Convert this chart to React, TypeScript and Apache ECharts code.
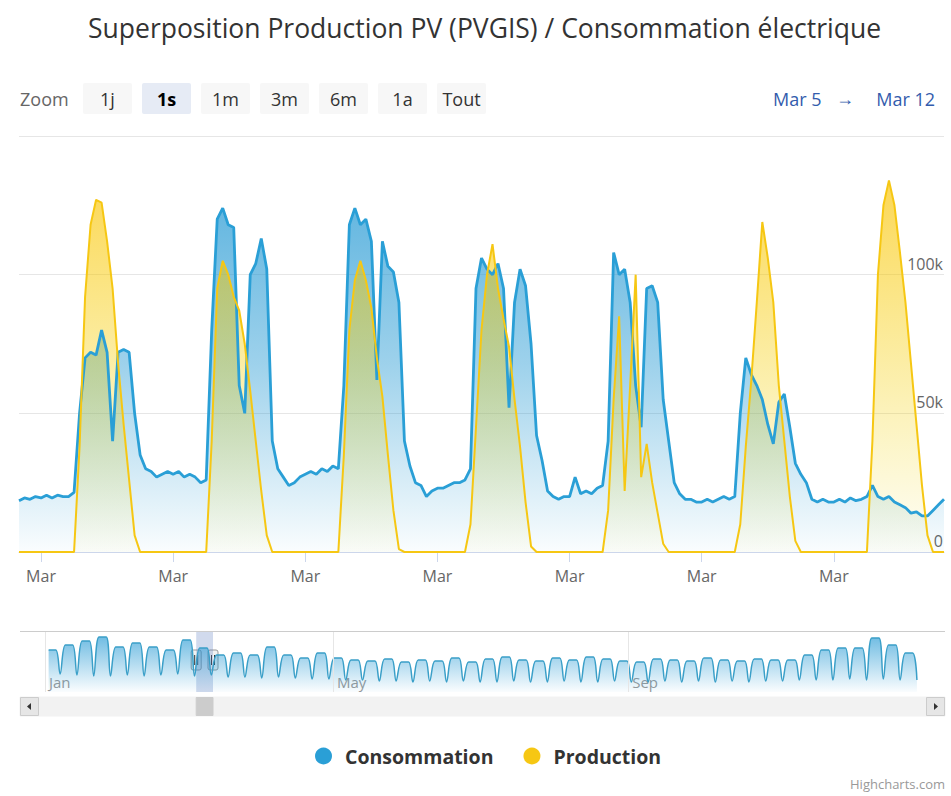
import React, { useEffect, useRef } from 'react';
import * as echarts from 'echarts';

// ---------- DATA ----------
// Hourly categories: hours relative to Mar 5 00:00 (one week shown)
const HOURS: number[] = Array.from({ length: 169 }, (_, i) => i - 4);

// Consommation (kW, in k units), hourly from h=-4 to h=164
const CONSOMMATION: number[] = [
  18.5, 19.5, 19, 20,
  // day 0
  19.5, 20.5, 19.5, 20.5, 20, 20, 21.5, 50, 70, 72, 71, 80, 72, 40, 72, 73, 72, 50, 35, 30, 29, 27, 28, 29,
  // day 1
  28, 29, 27, 28, 27, 25, 26, 80, 120, 124, 118, 117, 60, 50, 100, 104, 113, 102, 40, 30, 27, 24, 25, 27,
  // day 2
  28, 29, 28, 30, 29, 31, 30, 60, 118, 124, 118, 120, 112, 62, 112, 103, 101, 90, 40, 31, 25, 24, 20, 22,
  // day 3
  23, 23, 24, 25, 25, 26, 30, 95, 106, 102, 100, 104, 95, 52, 90, 102, 96, 75, 42, 33, 22, 20, 19, 20,
  // day 4
  20, 27, 21, 22, 21, 23, 24, 40, 108, 100, 102, 90, 60, 45, 95, 96, 90, 55, 40, 25, 21, 19, 19, 18,
  // day 5
  18, 19, 18, 19, 20, 19, 20, 50, 70, 64, 60, 55, 46, 39, 54, 57, 45, 32, 28, 25, 19, 18, 19, 18,
  // day 6
  18, 19, 18, 19.5, 18.5, 19, 20, 24, 20, 19, 20, 18, 17, 16, 14, 14.5, 13, 13, 15, 17, 19,
];

// Production PV (k units), hourly from h=-4 to h=164
const PRODUCTION: number[] = [
  0, 0, 0, 0,
  // day 0
  0, 0, 0, 0, 0, 0, 0, 38, 92, 118, 127, 126, 112, 95, 68, 46, 26, 6, 0, 0, 0, 0, 0, 0,
  // day 1
  0, 0, 0, 0, 0, 0, 0, 40, 95, 105, 100, 92, 87, 75, 58, 40, 22, 6, 0, 0, 0, 0, 0, 0,
  // day 2
  0, 0, 0, 0, 0, 0, 0, 35, 80, 98, 105, 98, 88, 70, 56, 35, 15, 1, 0, 0, 0, 0, 0, 0,
  // day 3
  0, 0, 0, 0, 0, 0, 10, 45, 80, 100, 111, 95, 84, 74, 55, 38, 18, 2, 0, 0, 0, 0, 0, 0,
  // day 4
  0, 0, 0, 0, 0, 0, 0, 15, 55, 85, 22, 60, 100, 27, 39, 25, 14, 3, 0, 0, 0, 0, 0, 0,
  // day 5
  0, 0, 0, 0, 0, 0, 0, 10, 38, 62, 90, 119, 106, 90, 60, 40, 20, 4, 0, 0, 0, 0, 0, 0,
  // day 6
  0, 0, 0, 0, 0, 0, 0, 40, 100, 125, 134, 125, 108, 90, 68, 46, 24, 6, 0, 0, 0,
];

const Y_MAX = 150;
const Y_STEP = 50;

// Navigator (whole year of consumption, weekly peak / weekend low levels)
const NAV_WEEK_PEAK: number[] = [
  42, 47, 51, 55, 45, 49, 45, 42, 52, 44,
  37, 39, 37, 45, 37, 34, 39, 34, 32, 31,
  33, 30, 32, 31, 34, 30, 33, 35, 32, 31,
  34, 32, 35, 33, 31, 30, 33, 32, 31, 34,
  32, 31, 33, 32, 32, 37, 42, 44, 44, 54,
  47, 39,
];
const NAV_WEEK_LOW: number[] = [
  18, 17, 16, 16, 17, 16, 17, 18, 16, 17,
  15, 15, 14, 15, 14, 13, 13, 12, 12, 11,
  11, 10, 11, 10, 11, 10, 10, 11, 10, 10,
  11, 10, 10, 11, 10, 10, 11, 10, 11, 10,
  11, 10, 11, 11, 12, 12, 12, 13, 12, 13,
  12, 12,
];
const NAV_MONTH_DAYS: number[] = [0, 120, 243];
const NAV_MONTH_LABELS: string[] = ['Jan', 'May', 'Sep'];
const SELECTION_DAYS: [number, number] = [63, 70];

const ZOOM_BUTTONS: string[] = ['1j', '1s', '1m', '3m', '6m', '1a', 'Tout'];
const SELECTED_BUTTON = '1s';
const RANGE_FROM = 'Mar 5';
const RANGE_TO = 'Mar 12';
const TITLE = 'Superposition Production PV (PVGIS) / Consommation électrique';

const FONT = '"Open Sans", "Noto Sans", sans-serif';
const BLUE = '#2a9fd6';
const YELLOW = '#f6c713';

export default function App() {
  const ref = useRef<HTMLDivElement>(null);

  useEffect(() => {
    document.body.style.margin = '0';
    if (!ref.current) return;
    const chart = echarts.init(ref.current, undefined, { renderer: 'svg' });

    const navData: number[][] = [];
    NAV_WEEK_PEAK.forEach((p, w) => {
      navData.push([7 * w + 1.5, p]);
      navData.push([7 * w + 4.5, p]);
      navData.push([7 * w + 6.3, NAV_WEEK_LOW[w]]);
    });

    const isDayTick = (i: number) => HOURS[i] % 24 === 0;

    const option: any = {
      animation: false,
      textStyle: { fontFamily: FONT },
      title: {
        text: TITLE,
        left: 83,
        top: 9,
        textStyle: { fontSize: 26.5, fontWeight: 'normal', color: '#333', fontFamily: FONT },
      },
      legend: {
        data: ['Consommation', 'Production'],
        left: 310,
        top: 741,
        icon: 'circle',
        itemWidth: 17,
        itemHeight: 17,
        itemGap: 30,
        textStyle: { fontSize: 19.5, fontWeight: 'bold', color: '#333', fontFamily: FONT, padding: [0, 0, 0, 8] },
      },
      grid: [
        { left: 19, right: 7, top: 136, height: 416 },
        { left: 45, right: 30, top: 632, height: 60 },
      ],
      xAxis: [
        {
          type: 'category',
          gridIndex: 0,
          data: HOURS,
          boundaryGap: false,
          axisLine: { lineStyle: { color: '#ccd6eb' } },
          axisTick: { show: true, interval: (i: number) => isDayTick(i), length: 10, lineStyle: { color: '#ccd6eb' } },
          axisLabel: {
            interval: (i: number) => isDayTick(i),
            formatter: () => 'Mar',
            color: '#666',
            fontSize: 16,
            margin: 16,
            fontFamily: FONT,
          },
          splitLine: { show: false },
        },
        {
          type: 'value',
          gridIndex: 1,
          min: 0,
          max: 365,
          axisLine: { show: false },
          axisTick: { show: false },
          splitLine: { show: false },
          axisLabel: {
            customValues: NAV_MONTH_DAYS,
            formatter: (v: number) => NAV_MONTH_LABELS[NAV_MONTH_DAYS.indexOf(v)] || '',
            inside: true,
            align: 'left',
            padding: [0, 0, 0, 4],
            color: '#999',
            fontSize: 15,
            margin: 3,
            fontFamily: FONT,
          },
        },
      ],
      yAxis: [
        {
          type: 'value',
          gridIndex: 0,
          min: 0,
          max: Y_MAX,
          interval: Y_STEP,
          position: 'right',
          axisLine: { show: false },
          axisTick: { show: false },
          splitLine: { lineStyle: { color: '#e6e6e6' } },
          axisLabel: {
            inside: true,
            formatter: (v: number) => (v === Y_MAX ? '' : v === 0 ? '0' : v + 'k'),
            color: '#666',
            fontSize: 16,
            verticalAlign: 'bottom',
            padding: [0, 0, 3, 0],
            margin: 1,
            fontFamily: FONT,
          },
        },
        { type: 'value', gridIndex: 1, min: 0, max: 60, show: false },
      ],
      series: [
        {
          name: 'Consommation',
          type: 'line',
          xAxisIndex: 0,
          yAxisIndex: 0,
          data: CONSOMMATION,
          showSymbol: false,
          symbol: 'none',
          lineStyle: { color: BLUE, width: 2.8 },
          itemStyle: { color: BLUE },
          areaStyle: {
            color: new echarts.graphic.LinearGradient(0, 0, 0, 1, [
              { offset: 0, color: 'rgba(30,150,210,0.98)' },
              { offset: 0.45, color: 'rgba(30,150,210,0.62)' },
              { offset: 1, color: 'rgba(30,150,210,0.03)' },
            ]),
          },
        },
        {
          name: 'Production',
          type: 'line',
          xAxisIndex: 0,
          yAxisIndex: 0,
          data: PRODUCTION,
          showSymbol: false,
          symbol: 'none',
          lineStyle: { color: YELLOW, width: 2 },
          itemStyle: { color: YELLOW },
          areaStyle: {
            color: new echarts.graphic.LinearGradient(0, 0, 0, 1, [
              { offset: 0, color: 'rgba(250,195,0,0.95)' },
              { offset: 1, color: 'rgba(240,215,0,0.04)' },
            ]),
          },
        },
        {
          name: 'Navigator',
          type: 'line',
          xAxisIndex: 1,
          yAxisIndex: 1,
          data: navData,
          showSymbol: false,
          symbol: 'none',
          smooth: 0.35,
          silent: true,
          lineStyle: { color: '#3a9fc8', width: 1.5 },
          areaStyle: {
            color: new echarts.graphic.LinearGradient(0, 0, 0, 1, [
              { offset: 0, color: 'rgba(30,150,210,0.9)' },
              { offset: 1, color: 'rgba(30,150,210,0.03)' },
            ]),
          },
          markLine: {
            silent: true,
            symbol: ['none', 'none'],
            label: { show: false },
            lineStyle: { color: '#e6e6e6', type: 'solid', width: 1 },
            data: NAV_MONTH_DAYS.map((d) => ({ xAxis: d })),
          },
          markArea: {
            silent: true,
            itemStyle: { color: 'rgba(102,133,194,0.3)' },
            data: [[{ xAxis: SELECTION_DAYS[0] }, { xAxis: SELECTION_DAYS[1] }]],
          },
        },
      ],
    };

    chart.setOption(option);

    // ---- chrome (range selector, scrollbar, handles, credits) ----
    const g: any[] = [];
    const txt = (x: number, y: number, text: string, o: any = {}) => ({
      type: 'text',
      x,
      y,
      silent: true,
      style: {
        text,
        fill: o.fill || '#333',
        fontSize: o.fontSize || 18,
        fontWeight: o.fontWeight || 'normal',
        fontFamily: FONT,
        textAlign: o.align || 'left',
        textVerticalAlign: 'middle',
        align: o.align || 'left',
        verticalAlign: 'middle',
      },
    });

    g.push(txt(20, 99, 'Zoom', { fill: '#666' }));
    ZOOM_BUTTONS.forEach((b, i) => {
      const x = 83 + i * 59;
      const sel = b === SELECTED_BUTTON;
      g.push({
        type: 'rect',
        silent: true,
        shape: { x, y: 83, width: 49, height: 31, r: 2 },
        style: { fill: sel ? '#e6ebf5' : '#f7f7f7' },
      });
      g.push(txt(x + 24.5, 99, b, { align: 'center', fill: sel ? '#000' : '#333', fontWeight: sel ? 'bold' : 'normal' }));
    });
    g.push(txt(773, 99, RANGE_FROM, { fill: '#335cad' }));
    g.push(txt(845, 98, '→', { fill: '#335cad', align: 'center', fontSize: 18 }));
    g.push(txt(935, 99, RANGE_TO, { fill: '#335cad', align: 'right' }));

    // navigator top outline
    g.push({ type: 'line', silent: true, shape: { x1: 20, y1: 631.5, x2: 945, y2: 631.5 }, style: { stroke: '#cccccc', lineWidth: 1 } });

    // scrollbar track & buttons
    g.push({ type: 'rect', silent: true, shape: { x: 20, y: 697, width: 925, height: 19 }, style: { fill: '#f2f2f2', stroke: '#f2f2f2' } });
    g.push({ type: 'rect', silent: true, shape: { x: 20.5, y: 697.5, width: 18, height: 18 }, style: { fill: '#e6e6e6', stroke: '#cccccc' } });
    g.push({ type: 'rect', silent: true, shape: { x: 926.5, y: 697.5, width: 18, height: 18 }, style: { fill: '#e6e6e6', stroke: '#cccccc' } });
    g.push({ type: 'polygon', silent: true, shape: { points: [[31, 703], [31, 710], [27, 706.5]] }, style: { fill: '#333' } });
    g.push({ type: 'polygon', silent: true, shape: { points: [[934, 703], [934, 710], [938, 706.5]] }, style: { fill: '#333' } });

    const p1 = chart.convertToPixel({ gridIndex: 1 } as any, [SELECTION_DAYS[0], 0]) as number[];
    const p2 = chart.convertToPixel({ gridIndex: 1 } as any, [SELECTION_DAYS[1], 0]) as number[];
    const x1 = p1[0];
    const x2 = p2[0];
    g.push({ type: 'rect', silent: true, shape: { x: x1, y: 697.5, width: x2 - x1, height: 18 }, style: { fill: '#cccccc', stroke: '#cccccc' } });
    [x1, x2].forEach((hx) => {
      g.push({
        type: 'rect',
        silent: true,
        shape: { x: hx - 5, y: 650, width: 10, height: 20, r: 2 },
        style: { fill: '#f2f2f2', stroke: '#999999', lineWidth: 1 },
      });
      g.push({ type: 'line', silent: true, shape: { x1: hx - 1.5, y1: 655, x2: hx - 1.5, y2: 665 }, style: { stroke: '#333', lineWidth: 1 } });
      g.push({ type: 'line', silent: true, shape: { x1: hx + 1.5, y1: 655, x2: hx + 1.5, y2: 665 }, style: { stroke: '#333', lineWidth: 1 } });
    });

    g.push(txt(945, 784, 'Highcharts.com', { fill: '#999', fontSize: 13, align: 'right' }));

    chart.setOption({ graphic: g });

    return () => chart.dispose();
  }, []);

  return <div ref={ref} style={{ width: 951, height: 796 }} />;
}
